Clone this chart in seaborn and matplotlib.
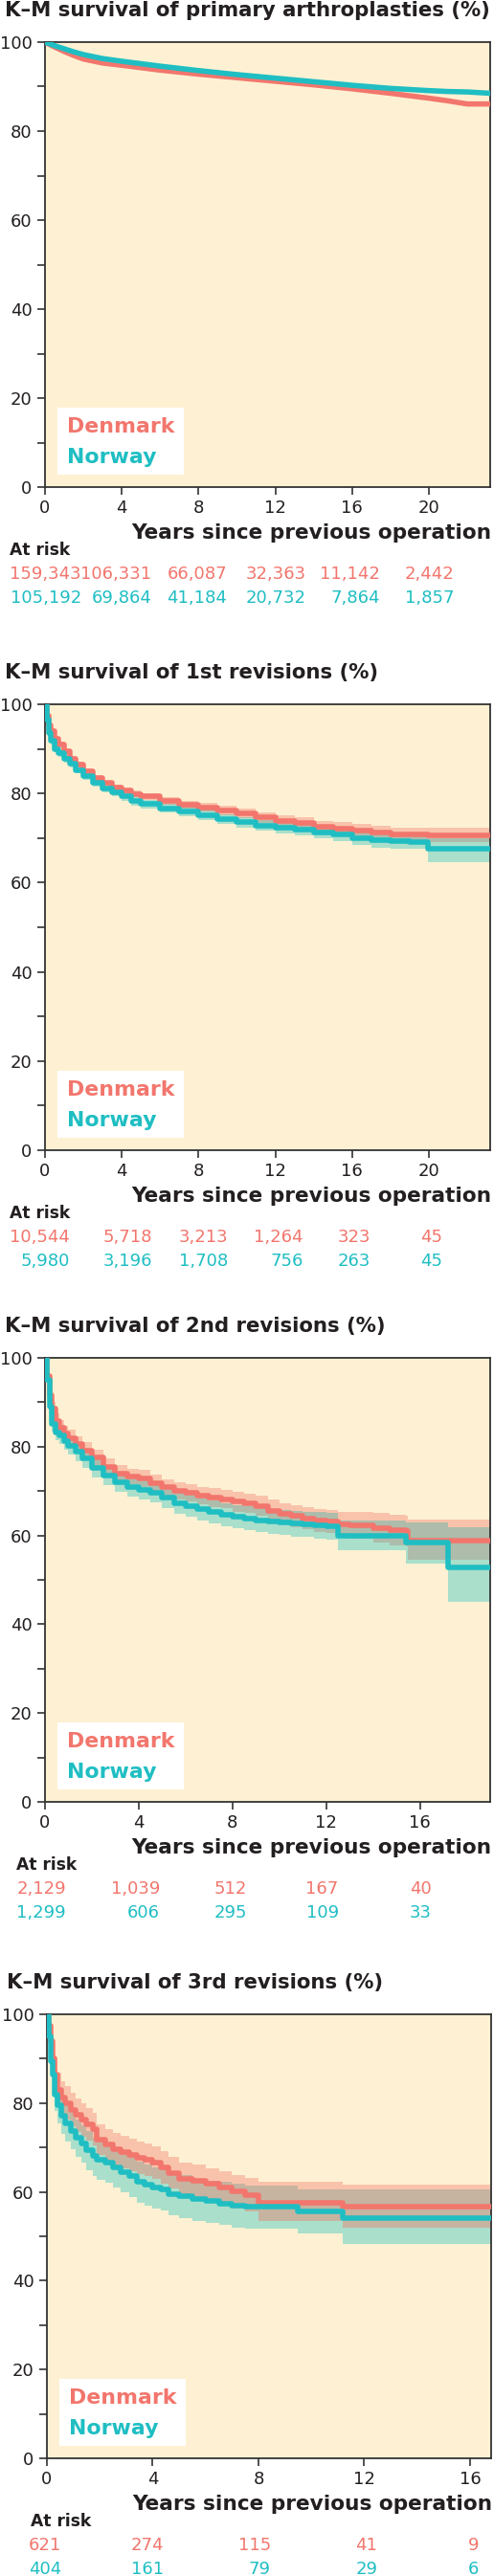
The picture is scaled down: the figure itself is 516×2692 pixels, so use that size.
import numpy as np
import pandas as pd
import matplotlib
matplotlib.use("Agg")
import matplotlib.pyplot as plt
from matplotlib.patches import Rectangle
import seaborn as sns

# ================= data =================
# primary arthroplasties
years_primary = [0, 0.5, 1, 1.5, 2, 3, 4, 6, 8, 10, 12, 14, 16, 18, 20, 21, 22, 23.2]
dk_primary = [100, 98.9, 97.9, 97.0, 96.2, 95.3, 94.8, 93.7, 92.8, 92.0, 91.2, 90.4, 89.5, 88.5, 87.4, 86.8, 86.1, 86.1]
no_primary = [100, 99.2, 98.5, 97.8, 97.2, 96.3, 95.7, 94.6, 93.6, 92.7, 91.9, 91.1, 90.3, 89.6, 89.1, 88.9, 88.8, 88.5]

# 1st revisions
years_rev1 = [0, 0.1, 0.2, 0.3, 0.5, 0.7, 1.0, 1.3, 1.6, 2.0, 2.5, 3.0, 3.5, 4.0, 4.5, 5.0,
              6.0, 7.0, 8.0, 9.0, 10.0, 11.0, 12.0, 13.0, 14.0, 15.0, 16.0, 17.0, 18.0, 19.0, 19.95, 23.2]
dk_rev1 = [100, 97.5, 95.3, 94.0, 92.3, 91.0, 89.4, 87.8, 86.5, 85.0, 83.5, 82.3, 81.4, 80.6, 79.9, 79.3,
           78.3, 77.5, 76.9, 76.2, 75.5, 74.6, 73.9, 73.3, 72.6, 72.1, 71.7, 71.2, 70.9, 70.8, 70.7, 70.6]
dk_rev1_hi = [100, 98.0, 95.9, 94.6, 92.9, 91.6, 90.0, 88.4, 87.1, 85.6, 84.1, 82.9, 82.0, 81.3, 80.6, 80.0,
              79.1, 78.4, 77.9, 77.2, 76.6, 75.8, 75.1, 74.6, 73.9, 73.5, 73.1, 72.7, 72.4, 72.3, 72.3, 72.2]
dk_rev1_lo = [100, 97.0, 94.7, 93.4, 91.7, 90.4, 88.8, 87.2, 85.9, 84.4, 82.9, 81.7, 80.8, 79.9, 79.2, 78.6,
              77.5, 76.6, 75.9, 75.2, 74.4, 73.4, 72.7, 72.0, 71.3, 70.7, 70.3, 69.7, 69.4, 69.3, 69.1, 69.0]
no_rev1 = [100, 96.5, 93.5, 91.8, 90.0, 89.0, 87.8, 86.6, 85.3, 83.9, 82.4, 81.2, 80.3, 79.3, 78.3, 77.6,
           76.7, 76.0, 75.2, 74.2, 73.5, 72.8, 72.3, 71.9, 71.3, 70.8, 70.0, 69.5, 69.3, 69.2, 67.6, 67.6]
no_rev1_hi = [100, 97.2, 94.3, 92.6, 90.8, 89.8, 88.6, 87.4, 86.1, 84.7, 83.2, 82.1, 81.2, 80.2, 79.3, 78.6,
              77.7, 77.1, 76.3, 75.3, 74.7, 74.0, 73.6, 73.2, 72.7, 72.2, 71.5, 71.1, 70.9, 70.9, 70.0, 70.0]
no_rev1_lo = [100, 95.8, 92.7, 91.0, 89.2, 88.2, 87.0, 85.8, 84.5, 83.1, 81.6, 80.3, 79.4, 78.4, 77.3, 76.6,
              75.7, 74.9, 74.1, 73.1, 72.3, 71.6, 71.0, 70.6, 69.9, 69.4, 68.5, 67.9, 67.7, 67.5, 64.5, 64.5]

# 2nd revisions
years_rev2 = [0, 0.1, 0.2, 0.3, 0.45, 0.6, 0.8, 1.0, 1.3, 1.6, 2.0, 2.5, 3.0, 3.5, 4.0, 4.5, 5.0, 5.5, 6.0, 6.5,
              7.0, 7.5, 8.0, 8.5, 9.0, 9.5, 10.0, 10.5, 11.0, 11.5, 12.0, 12.5, 13.0, 14.0, 14.7, 15.4, 15.5, 17.2, 19.0]
dk_rev2 = [100, 96.0, 91.5, 88.5, 85.8, 84.2, 83.0, 82.0, 80.5, 79.2, 77.5, 75.5, 74.0, 73.3, 72.8, 71.8, 70.8, 70.0, 69.6, 69.0,
           68.5, 68.2, 67.6, 67.2, 66.7, 65.6, 64.9, 64.4, 63.9, 63.4, 63.1, 62.5, 62.2, 61.7, 61.2, 61.0, 58.8, 58.8, 58.8]
dk_rev2_hi = [100, 97.0, 92.8, 90.0, 87.5, 86.0, 84.8, 83.8, 82.3, 81.0, 79.3, 77.3, 75.8, 75.1, 74.7, 73.7, 72.7, 72.0, 71.6, 71.0,
              70.6, 70.3, 69.8, 69.4, 69.0, 68.0, 67.3, 66.9, 66.4, 66.0, 65.7, 65.4, 65.2, 65.0, 64.6, 64.4, 63.6, 63.6, 63.6]
dk_rev2_lo = [100, 95.0, 90.2, 87.0, 84.1, 82.4, 81.2, 80.2, 78.7, 77.4, 75.7, 73.7, 72.2, 71.5, 70.9, 69.9, 68.9, 68.0, 67.6, 67.0,
              66.4, 66.1, 65.4, 65.0, 64.4, 63.2, 62.5, 61.9, 61.4, 60.8, 60.5, 59.6, 59.2, 58.4, 57.8, 57.6, 54.6, 54.6, 54.6]
no_rev2 = [100, 95.0, 89.0, 85.2, 83.2, 82.5, 81.3, 80.2, 78.8, 77.3, 75.2, 73.5, 72.0, 71.0, 70.3, 69.7, 68.5, 67.3, 66.7, 66.0,
           65.3, 64.6, 64.2, 63.8, 63.4, 63.2, 63.0, 62.7, 62.5, 62.2, 62.0, 60.0, 60.0, 60.0, 60.0, 58.4, 58.4, 52.9, 52.9]
no_rev2_hi = [100, 96.2, 90.5, 86.9, 85.0, 84.4, 83.2, 82.2, 80.8, 79.3, 77.3, 75.7, 74.2, 73.3, 72.6, 72.0, 70.9, 69.8, 69.2, 68.6,
              67.9, 67.2, 66.8, 66.5, 66.1, 66.0, 65.8, 65.6, 65.4, 65.2, 65.0, 63.3, 63.3, 63.3, 63.3, 63.0, 63.0, 61.9, 61.9]
no_rev2_lo = [100, 93.8, 87.5, 83.5, 81.4, 80.6, 79.4, 78.2, 76.8, 75.3, 73.1, 71.3, 69.8, 68.7, 68.0, 67.4, 66.1, 64.8, 64.2, 63.4,
              62.7, 62.0, 61.6, 61.1, 60.7, 60.4, 60.2, 59.8, 59.6, 59.2, 59.0, 56.7, 56.7, 56.7, 56.7, 53.7, 53.7, 45.0, 45.0]

# 3rd revisions
years_rev3 = [0, 0.08, 0.15, 0.22, 0.3, 0.4, 0.55, 0.7, 0.9, 1.1, 1.3, 1.5, 1.75, 1.9, 2.2, 2.5, 2.8,
              3.1, 3.4, 3.7, 4.0, 4.3, 4.6, 5.0, 5.5, 6.0, 6.5, 7.0, 7.5, 8.0, 9.5, 11.2, 16.8]
dk_rev3 = [100, 97.5, 94.0, 90.0, 86.5, 83.0, 81.2, 80.0, 78.5, 77.3, 76.2, 75.2, 74.2, 71.8, 70.6, 69.6, 69.0,
           68.3, 67.7, 67.3, 66.6, 65.6, 64.3, 63.0, 62.5, 61.8, 60.9, 60.1, 59.3, 57.6, 57.6, 56.7, 56.7]
dk_rev3_hi = [100, 99.0, 96.5, 93.2, 90.0, 86.8, 85.0, 83.8, 82.3, 81.0, 79.9, 78.9, 77.8, 75.3, 74.2, 73.2, 72.6,
              71.9, 71.3, 70.9, 70.2, 69.2, 67.9, 66.6, 66.1, 65.4, 64.6, 63.8, 63.1, 62.3, 62.3, 61.7, 61.7]
dk_rev3_lo = [100, 96.0, 91.5, 86.8, 83.0, 79.2, 77.4, 76.2, 74.7, 73.5, 72.5, 71.5, 70.5, 68.3, 67.0, 66.0, 65.3,
              64.7, 64.0, 63.6, 62.9, 61.9, 60.7, 59.4, 58.9, 58.1, 57.2, 56.3, 55.5, 53.5, 53.5, 52.0, 52.0]
no_rev3 = [100, 95.0, 89.5, 86.5, 82.0, 79.5, 77.2, 75.5, 73.8, 72.2, 70.8, 69.3, 68.0, 67.3, 66.5, 65.5, 64.5,
           63.6, 62.2, 61.6, 61.0, 60.6, 59.5, 59.0, 58.3, 57.9, 57.4, 57.0, 56.6, 56.6, 55.6, 54.0, 54.0]
no_rev3_hi = [100, 97.2, 92.8, 90.0, 85.8, 83.4, 81.2, 79.6, 77.9, 76.4, 75.0, 73.6, 72.3, 71.7, 70.9, 70.0, 69.0,
              68.1, 66.8, 66.2, 65.6, 65.3, 64.2, 63.7, 63.0, 62.6, 62.2, 61.8, 61.4, 61.4, 60.5, 60.6, 60.6]
no_rev3_lo = [100, 92.6, 86.1, 82.9, 78.2, 75.5, 73.1, 71.3, 69.6, 67.9, 66.5, 64.9, 63.6, 62.8, 62.0, 60.9, 59.9,
              58.9, 57.5, 56.9, 56.3, 55.8, 54.7, 54.2, 53.4, 53.0, 52.5, 52.0, 51.7, 51.7, 50.6, 48.3, 48.3]

# numbers at risk
risk_years_long = [0, 4, 8, 12, 16, 20]
risk_years_short = [0, 4, 8, 12, 16]
risk_dk_primary = [159343, 106331, 66087, 32363, 11142, 2442]
risk_no_primary = [105192, 69864, 41184, 20732, 7864, 1857]
risk_dk_rev1 = [10544, 5718, 3213, 1264, 323, 45]
risk_no_rev1 = [5980, 3196, 1708, 756, 263, 45]
risk_dk_rev2 = [2129, 1039, 512, 167, 40]
risk_no_rev2 = [1299, 606, 295, 109, 33]
risk_dk_rev3 = [621, 274, 115, 41, 9]
risk_no_rev3 = [404, 161, 79, 29, 6]

titles = ["K\u2013M survival of primary arthroplasties (%)",
          "K\u2013M survival of 1st revisions (%)",
          "K\u2013M survival of 2nd revisions (%)",
          "K\u2013M survival of 3rd revisions (%)"]

# ================= style =================
RED = "#F2766D"
TEAL = "#1FBEC3"
DK_BAND = "#F9C3AB"
NO_BAND = "#AADFCB"
BG = "#FEF1D3"
INK = "#231F20"
SPINE = "#333333"

W, H, DPI = 516, 2692, 100
PT = 72 / DPI  # pixels -> points

sns.set_style("ticks")
plt.rcParams["font.family"] = ["DejaVu Sans"]

panels = [
    dict(box=(47, 512, 44, 509), xmax=23.2, xticks=[0, 4, 8, 12, 16, 20],
         t=years_primary, dk=dk_primary, no=no_primary, bands=None, steps=False,
         risk_t=risk_years_long, risk_dk=risk_dk_primary, risk_no=risk_no_primary,
         risk_off=[38, 31, 30, 32, 29, 27], atrisk_dx=-37),
    dict(box=(47, 512, 736, 1202), xmax=23.2, xticks=[0, 4, 8, 12, 16, 20],
         t=years_rev1, dk=dk_rev1, no=no_rev1,
         bands=(dk_rev1_lo, dk_rev1_hi, no_rev1_lo, no_rev1_hi), overlap="#ADBCAB", steps=True,
         risk_t=risk_years_long, risk_dk=risk_dk_rev1, risk_no=risk_no_rev1,
         risk_off=[26, 32, 31, 29, 19, 14], atrisk_dx=-37),
    dict(box=(47, 512, 1419, 1883), xmax=19.0, xticks=[0, 4, 8, 12, 16],
         t=years_rev2, dk=dk_rev2, no=no_rev2,
         bands=(dk_rev2_lo, dk_rev2_hi, no_rev2_lo, no_rev2_hi), overlap="#ADBCAB", steps=True,
         risk_t=risk_years_short, risk_dk=risk_dk_rev2, risk_no=risk_no_rev2,
         risk_off=[22, 22, 15, 13, 12], atrisk_dx=-30),
    dict(box=(49, 513, 2105, 2569), xmax=16.8, xticks=[0, 4, 8, 12, 16],
         t=years_rev3, dk=dk_rev3, no=no_rev3,
         bands=(dk_rev3_lo, dk_rev3_hi, no_rev3_lo, no_rev3_hi), overlap="#C6B3A0", steps=True,
         risk_t=risk_years_short, risk_dk=risk_dk_rev3, risk_no=risk_no_rev3,
         risk_off=[15, 12, 13, 14, 9], atrisk_dx=-17),
]


def note(ax, text, xy, xycoords, dx, dy, **kw):
    # place text at a pixel offset from an anchor on the axes
    return ax.annotate(text, xy=xy, xycoords=xycoords, xytext=(dx * PT, dy * PT),
                       textcoords="offset points", annotation_clip=False, **kw)


def draw_panel(ax, p, title):
    ax.set_facecolor(BG)
    t = np.array(p["t"], dtype=float)

    if p["bands"] is not None:
        dk_lo, dk_hi, no_lo, no_hi = [np.array(b, dtype=float) for b in p["bands"]]
        ax.fill_between(t, dk_lo, dk_hi, step="post", color=DK_BAND, lw=0, zorder=1)
        ax.fill_between(t, no_lo, no_hi, step="post", color=NO_BAND, lw=0, zorder=1.1)
        lo = np.maximum(dk_lo, no_lo)
        hi = np.maximum(np.minimum(dk_hi, no_hi), lo)
        ax.fill_between(t, lo, hi, step="post", color=p["overlap"], lw=0, zorder=1.2)

    n = len(t)
    df = pd.DataFrame({"years": np.concatenate([t, t]),
                       "surv": list(p["dk"]) + list(p["no"]),
                       "country": ["Denmark"] * n + ["Norway"] * n})
    extra = {"drawstyle": "steps-post"} if p["steps"] else {}
    sns.lineplot(data=df, x="years", y="surv", hue="country",
                 hue_order=["Denmark", "Norway"], palette={"Denmark": RED, "Norway": TEAL},
                 estimator=None, sort=False, legend=False, lw=4, ax=ax, zorder=3, **extra)

    ax.set_xlim(0, p["xmax"])
    ax.set_ylim(0, 100)
    yt = list(range(0, 101, 10))
    ax.set_yticks(yt)
    ax.set_yticklabels([str(v) if v % 20 == 0 else "" for v in yt])
    ax.set_xticks(p["xticks"])
    ax.set_xticklabels([str(v) for v in p["xticks"]])
    ax.set_xlabel("")
    ax.set_ylabel("")
    ax.tick_params(direction="out", length=5.8, width=1.2, color=SPINE,
                   labelsize=13, labelcolor=INK)
    ax.tick_params(axis="y", pad=4)
    ax.tick_params(axis="x", pad=3.5)
    for s in ax.spines.values():
        s.set_visible(True)
        s.set_color(SPINE)
        s.set_linewidth(1.3)

    # legend box
    ax.add_patch(Rectangle((0.028, 0.028), 0.284, 0.15, transform=ax.transAxes,
                           facecolor="white", edgecolor="none", zorder=5))
    ax.text(0.05, 0.135, "Denmark", transform=ax.transAxes, color=RED,
            fontsize=15.8, fontweight="bold", va="center", ha="left", zorder=6)
    ax.text(0.05, 0.067, "Norway", transform=ax.transAxes, color=TEAL,
            fontsize=15.8, fontweight="bold", va="center", ha="left", zorder=6)

    # title, axis label, numbers at risk
    note(ax, title, (0, 1), "axes fraction", -42, 33, ha="left", va="center",
         fontsize=15.3, fontweight="bold", color=INK)
    note(ax, "Years since previous operation", (1, 0), "axes fraction", 1, -48,
         ha="right", va="center", fontsize=15.6, fontweight="bold", color=INK)
    note(ax, "At risk", (0, 0), "axes fraction", p["atrisk_dx"], -66,
         ha="left", va="center", fontsize=12.3, fontweight="bold", color=INK)
    for yr, a, b, off in zip(p["risk_t"], p["risk_dk"], p["risk_no"], p["risk_off"]):
        note(ax, f"{a:,}", (yr, 0), ("data", "axes fraction"), off, -91,
             ha="right", va="center", fontsize=13, color=RED)
        note(ax, f"{b:,}", (yr, 0), ("data", "axes fraction"), off, -116,
             ha="right", va="center", fontsize=13, color=TEAL)


fig = plt.figure(figsize=(W / DPI, H / DPI), dpi=DPI)
fig.patch.set_facecolor("white")
for p, title in zip(panels, titles):
    left, right, top, bottom = p["box"]
    ax = fig.add_axes([left / W, 1 - bottom / H, (right - left) / W, (bottom - top) / H])
    draw_panel(ax, p, title)

fig.savefig("out.png", dpi=DPI, facecolor="white")
